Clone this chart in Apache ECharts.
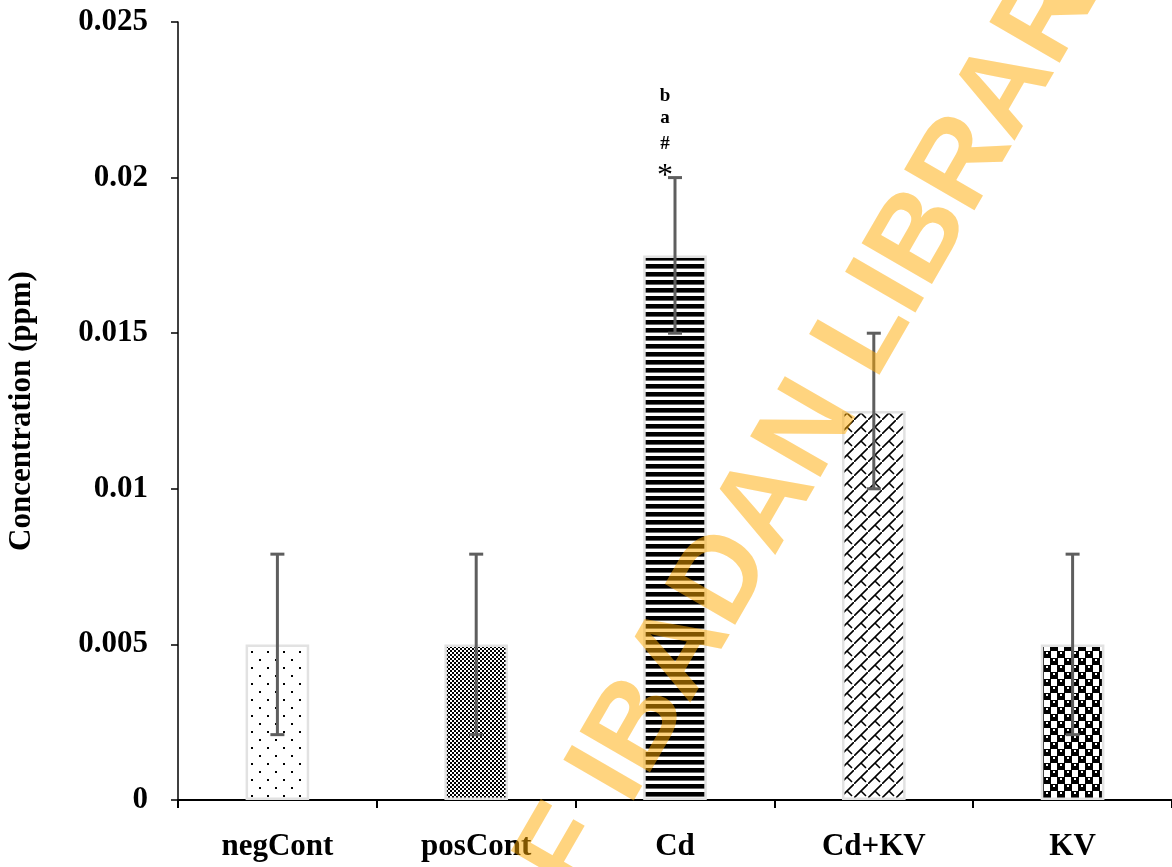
<!DOCTYPE html>
<html>
<head>
<meta charset="utf-8">
<script src="https://cdn.jsdelivr.net/npm/echarts@6/dist/echarts.min.js"></script>
<style>
  html, body { margin: 0; padding: 0; background: #fff; }
  #chart { width: 1172px; height: 867px; }
</style>
</head>
<body>
<div id="chart"></div>
<script>
// data
const categories = ['negCont', 'posCont', 'Cd', 'Cd+KV', 'KV'];
const meanValues = [0.005, 0.005, 0.0175, 0.0125, 0.005];
const errorValues = [0.0029, 0.0029, 0.0025, 0.0025, 0.0029];
const cdMarks = ['*', '#', 'a', 'b'];   // from bottom to top, above Cd
const cdIndex = 2;
const yMin = 0;
const yMax = 0.025;
const yStep = 0.005;

const serif = '"Liberation Serif", "Times New Roman", serif';

function makePattern(w, h, draw) {
  const c = document.createElement('canvas');
  c.width = w;
  c.height = h;
  const ctx = c.getContext('2d');
  ctx.fillStyle = '#fff';
  ctx.fillRect(0, 0, w, h);
  ctx.fillStyle = '#000';
  ctx.strokeStyle = '#000';
  draw(ctx);
  return { image: c, repeat: 'repeat' };
}

// one fill pattern per group
const patterns = [
  makePattern(16, 16, (ctx) => {
    ctx.fillRect(3, 3, 2, 2);
    ctx.fillRect(11, 11, 2, 2);
  }),
  makePattern(4, 4, (ctx) => {
    ctx.fillRect(0, 0, 2, 2);
    ctx.fillRect(2, 2, 2, 2);
  }),
  makePattern(8, 8, (ctx) => {
    ctx.fillRect(0, 0, 8, 4.6);
  }),
  makePattern(14, 14, (ctx) => {
    ctx.lineWidth = 1.6;
    ctx.beginPath();
    ctx.moveTo(-1, 15);
    ctx.lineTo(15, -1);
    ctx.moveTo(7, 7);
    ctx.lineTo(12, 12);
    ctx.stroke();
  }),
  makePattern(14, 14, (ctx) => {
    ctx.fillRect(0, 0, 8, 7);
    ctx.fillRect(7, 7, 8, 7);
    ctx.fillRect(-1, 7, 2, 7);
    ctx.fillStyle = '#fff';
    ctx.fillRect(3, 1, 2, 2);
    ctx.fillRect(10, 8, 2, 2);
  }),
];

const chart = echarts.init(document.getElementById('chart'));

chart.setOption({
  animation: false,
  backgroundColor: '#fff',
  grid: {
    left: 178,
    right: 0,
    top: 22,
    bottom: 67,
    containLabel: false,
    outerBoundsMode: 'none',
  },
  xAxis: {
    type: 'category',
    data: categories,
    boundaryGap: true,
    axisLine: { lineStyle: { color: '#000', width: 2 } },
    axisTick: { show: true, length: 8, lineStyle: { color: '#000', width: 2 } },
    axisLabel: {
      color: '#000',
      fontFamily: serif,
      fontWeight: 'bold',
      fontSize: 31,
      margin: 31,
    },
  },
  yAxis: {
    type: 'value',
    min: yMin,
    max: yMax,
    interval: yStep,
    name: 'Concentration (ppm)',
    nameLocation: 'middle',
    nameGap: 141,
    nameTextStyle: {
      color: '#000',
      fontFamily: serif,
      fontWeight: 'bold',
      fontSize: 31,
    },
    axisLine: { show: true, lineStyle: { color: '#000', width: 1.5 } },
    axisTick: { show: true, length: 7, lineStyle: { color: '#000', width: 1.5 } },
    splitLine: { show: false },
    axisLabel: {
      color: '#000',
      fontFamily: serif,
      fontWeight: 'bold',
      fontSize: 31,
      margin: 30,
    },
  },
  series: [
    {
      name: 'mean',
      type: 'bar',
      barWidth: '32%',
      data: meanValues.map((v, i) => ({
        value: v,
        itemStyle: {
          color: patterns[i],
          borderColor: '#e2e2e2',
          borderWidth: 2.5,
        },
      })),
    },
    {
      name: 'error',
      type: 'custom',
      z: 5,
      data: meanValues.map((v, i) => [i, v, errorValues[i]]),
      renderItem: (params, api) => {
        const x = api.value(0);
        const m = api.value(1);
        const e = api.value(2);
        const top = api.coord([x, m + e]);
        const bot = api.coord([x, m - e]);
        const cap = 7;
        const style = { stroke: '#5e5e5e', lineWidth: 3 };
        return {
          type: 'group',
          children: [
            { type: 'line', shape: { x1: top[0], y1: top[1], x2: bot[0], y2: bot[1] }, style },
            { type: 'line', shape: { x1: top[0] - cap, y1: top[1], x2: top[0] + cap, y2: top[1] }, style },
            { type: 'line', shape: { x1: bot[0] - cap, y1: bot[1], x2: bot[0] + cap, y2: bot[1] }, style },
          ],
        };
      },
    },
    {
      name: 'marks',
      type: 'custom',
      z: 6,
      data: [[cdIndex, meanValues[cdIndex] + errorValues[cdIndex]]],
      renderItem: (params, api) => {
        const p = api.coord([api.value(0), api.value(1)]);
        const offsets = [-1, -34, -60, -82];
        return {
          type: 'group',
          children: cdMarks.map((t, i) => ({
            type: 'text',
            x: p[0] - 10,
            y: p[1] + offsets[i],
            style: {
              text: t,
              fill: '#000',
              font: (i === 0 ? 'normal 32px ' : 'bold 19px ') + serif,
              align: 'center',
              verticalAlign: 'middle',
            },
          })),
        };
      },
    },
  ],
  graphic: [
    {
      type: 'text',
      x: 620,
      y: 759,
      rotation: 60 * Math.PI / 180,
      z: 100,
      silent: true,
      style: {
        text: 'UNIVERSITY OF IBADAN LIBRARY',
        font: 'bold 118px "Liberation Sans", Arial, sans-serif',
        fill: 'rgba(255, 170, 0, 0.5)',
        align: 'center',
        verticalAlign: 'middle',
      },
    },
  ],
});
</script>
</body>
</html>
